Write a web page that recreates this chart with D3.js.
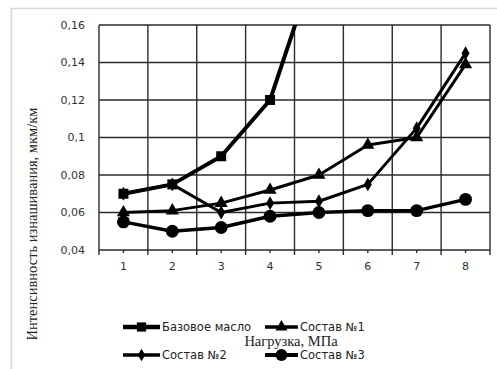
<!DOCTYPE html>
<html>
<head>
<meta charset="utf-8">
<script src="https://cdn.jsdelivr.net/npm/d3@7"></script>
<style>
  body { margin: 0; background: #fff; }
  svg { display: block; }
</style>
</head>
<body>
<svg id="chart"></svg>
<script>
// data
const loads = ["1", "2", "3", "4", "5", "6", "7", "8"];
const baseOil = [0.070, 0.075, 0.090, 0.120, 0.198];
const comp1 = [0.060, 0.061, 0.065, 0.072, 0.080, 0.096, 0.100, 0.139];
const comp2 = [0.070, 0.075, 0.060, 0.065, 0.066, 0.075, 0.105, 0.145];
const comp3 = [0.055, 0.050, 0.052, 0.058, 0.060, 0.061, 0.061, 0.067];
const seriesNames = ["Базовое масло", "Состав №1", "Состав №2", "Состав №3"];
const yTicks = [0.04, 0.06, 0.08, 0.10, 0.12, 0.14, 0.16];
const yTickLabels = ["0,04", "0,06", "0,08", "0,1", "0,12", "0,14", "0,16"];

const width = 497, height = 369;
const margin = { top: 25, right: 7, bottom: 119, left: 99 };
const innerW = width - margin.left - margin.right;
const innerH = height - margin.top - margin.bottom;

const svg = d3.select("#chart").attr("width", width).attr("height", height);

// light frame of the chart area
svg.append("rect")
    .attr("x", 11.5).attr("y", 8.5)
    .attr("width", 500).attr("height", 400)
    .attr("fill", "none")
    .attr("stroke", "#d8d8d8")
    .attr("stroke-width", 1.5);

const g = svg.append("g").attr("transform", `translate(${margin.left},${margin.top})`);

const x = d3.scaleBand().domain(loads).range([0, innerW]);
const y = d3.scaleLinear().domain([0.04, 0.16]).range([innerH, 0]);

svg.append("defs").append("clipPath").attr("id", "plot-clip")
    .append("rect").attr("width", innerW).attr("height", innerH);

// grid
const grid = g.append("g").attr("stroke", "#2a2a2a").attr("stroke-width", 1.4);
grid.selectAll(".hline").data(yTicks).enter().append("line")
    .attr("x1", 0).attr("x2", innerW)
    .attr("y1", d => y(d)).attr("y2", d => y(d));
const bounds = loads.map(d => x(d)).concat([innerW]);
grid.selectAll(".vline").data(bounds).enter().append("line")
    .attr("x1", d => d).attr("x2", d => d)
    .attr("y1", 0).attr("y2", innerH + 5);
// small center ticks
grid.selectAll(".ctick").data(loads).enter().append("line")
    .attr("x1", d => x(d) + x.bandwidth() / 2).attr("x2", d => x(d) + x.bandwidth() / 2)
    .attr("y1", innerH).attr("y2", innerH + 3);

// y tick labels
g.selectAll(".ylab").data(yTicks).enter().append("text")
    .attr("x", -14).attr("y", d => y(d)).attr("dy", "0.35em")
    .attr("text-anchor", "end")
    .attr("font-family", "DejaVu Sans, sans-serif").attr("font-size", 11)
    .attr("fill", "#333")
    .text((d, i) => yTickLabels[i]);

// x tick labels
g.selectAll(".xlab").data(loads).enter().append("text")
    .attr("x", d => x(d) + x.bandwidth() / 2).attr("y", innerH + 20)
    .attr("text-anchor", "middle")
    .attr("font-family", "DejaVu Sans, sans-serif").attr("font-size", 11)
    .attr("fill", "#333")
    .text(d => d);

const series = [
    { name: seriesNames[0], values: baseOil, symbol: d3.symbolSquare, size: 100, width: 4 },
    { name: seriesNames[1], values: comp1, symbol: d3.symbolTriangle, size: 75, width: 3 },
    { name: seriesNames[2], values: comp2, symbol: d3.symbolDiamond, size: 55, width: 3 },
    { name: seriesNames[3], values: comp3, symbol: d3.symbolCircle, size: 130, width: 3.5 }
];

const line = d3.line()
    .x((d, i) => x(loads[i]) + x.bandwidth() / 2)
    .y(d => y(d));

const plot = g.append("g").attr("clip-path", "url(#plot-clip)");

// draw in reverse so that the base oil series is on top
series.slice().reverse().forEach(s => {
    plot.append("path")
        .attr("fill", "none")
        .attr("stroke", "#000")
        .attr("stroke-width", s.width)
        .attr("stroke-linejoin", "round")
        .attr("d", line(s.values));
    plot.selectAll(null).data(s.values).enter().append("path")
        .attr("transform", (d, i) => `translate(${x(loads[i]) + x.bandwidth() / 2},${y(d)})`)
        .attr("d", d3.symbol().type(s.symbol).size(s.size))
        .attr("fill", "#000");
});

// axis titles
svg.append("text")
    .attr("transform", `translate(37,224) rotate(-90)`)
    .attr("text-anchor", "middle")
    .attr("font-family", "Liberation Serif, serif").attr("font-size", 14.5)
    .attr("fill", "#222")
    .text("Интенсивность изнашивания, мкм/км");

svg.append("text")
    .attr("x", 291).attr("y", 346)
    .attr("text-anchor", "middle")
    .attr("font-family", "Liberation Serif, serif").attr("font-size", 14.5)
    .attr("fill", "#222")
    .text("Нагрузка, МПа");

// legend
const legendPos = [[123, 327], [265, 327], [123, 355], [265, 355]];
const legend = svg.append("g");
series.forEach((s, i) => {
    const [lx, ly] = legendPos[i];
    const lw = i % 2 === 0 ? 37 : 33;
    const item = legend.append("g").attr("transform", `translate(${lx},${ly})`);
    item.append("line")
        .attr("x1", 0).attr("x2", lw).attr("y1", 0).attr("y2", 0)
        .attr("stroke", "#000").attr("stroke-width", s.width + 0.5);
    item.append("path")
        .attr("transform", `translate(${lw / 2},0)`)
        .attr("d", d3.symbol().type(s.symbol).size(s.size * 0.85))
        .attr("fill", "#000");
    item.append("text")
        .attr("x", lw + 2).attr("y", 0).attr("dy", "0.35em")
        .attr("font-family", "DejaVu Sans, sans-serif").attr("font-size", 11.5)
        .attr("fill", "#222")
        .text(s.name);
});
</script>
</body>
</html>
